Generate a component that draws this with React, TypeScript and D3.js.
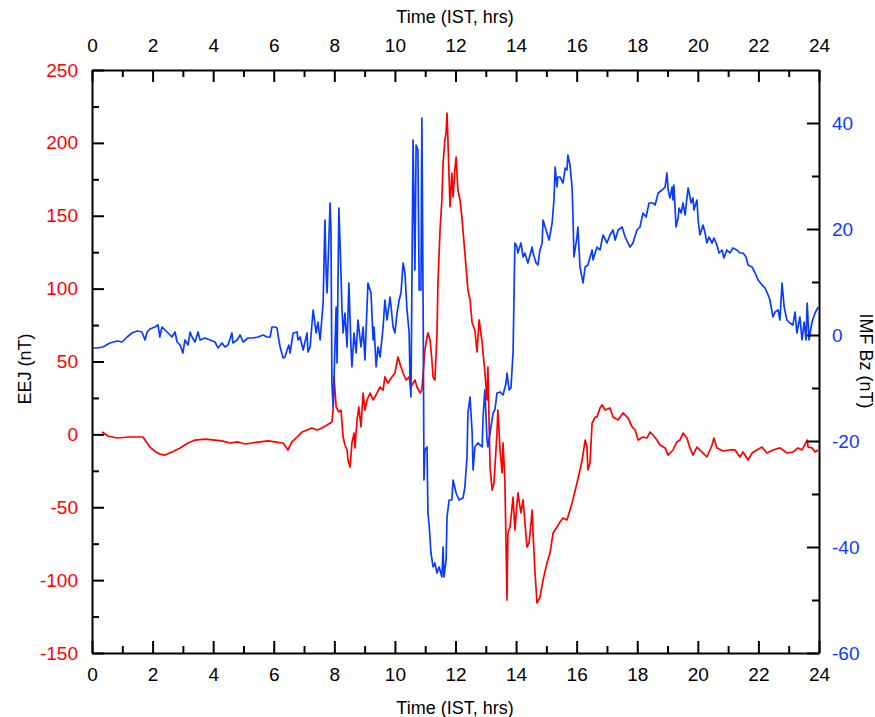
import React, { useEffect, useRef } from 'react';
import * as d3 from 'd3';

// EEJ readings [hour IST, nT] (left axis, red)
const eejReadings: [number, number][] = [
  [0.33, 1.6], [0.53, -1.1], [0.83, -2.5], [1.25, -1.8], [1.68, -1.8], [1.91, -8.7], [2.11, -12.1],
  [2.24, -13.5], [2.41, -14.2], [2.64, -12.1], [2.91, -9.3], [3.17, -5.9], [3.4, -3.9], [3.73, -3.2],
  [4.06, -3.9], [4.29, -4.5], [4.56, -5.9], [4.82, -5.2], [5.05, -6.6], [5.28, -5.9], [5.55, -5.2],
  [5.81, -4.5], [6.04, -5.2], [6.31, -5.9], [6.47, -10.7], [6.6, -5.2], [6.77, -1.8], [6.93, 1.6],
  [7.1, 3.0], [7.26, 4.4], [7.43, 3.0], [7.59, 4.4], [7.76, 6.4], [7.92, 8.5], [7.96, 16.7],
  [7.99, 39.4], [8.06, 18.8], [8.15, 15.4], [8.22, 16.7], [8.29, -1.8], [8.35, -7.3], [8.42, -10.7],
  [8.45, -17.6], [8.52, -22.4], [8.58, -5.9], [8.65, 0.9], [8.68, -9.3], [8.75, 9.9], [8.81, 18.8],
  [8.88, 5.1], [8.95, 28.4], [9.01, 16.7], [9.08, 23.6], [9.18, 28.4], [9.28, 23.6], [9.41, 28.4],
  [9.51, 32.5], [9.61, 30.4], [9.67, 39.4], [9.77, 35.2], [9.9, 39.4], [10.0, 42.1], [10.1, 53.1],
  [10.2, 46.2], [10.27, 42.1], [10.37, 37.3], [10.47, 39.4], [10.53, 32.5], [10.6, 35.2], [10.66, 37.3],
  [10.73, 32.5], [10.83, 28.4], [10.89, 30.4], [10.99, 57.9], [11.06, 66.8], [11.09, 69.6], [11.16, 64.8],
  [11.22, 51], [11.26, 39.4], [11.32, 37.3], [11.39, 69.6], [11.42, 103.9], [11.49, 140.2], [11.55, 160.8],
  [11.59, 186.2], [11.65, 202], [11.69, 206.8], [11.72, 220.5], [11.75, 202], [11.82, 156], [11.88, 179.3],
  [11.92, 162.9], [11.98, 181.4], [12.02, 190.3], [12.08, 167.7], [12.15, 160.8], [12.21, 149.1],
  [12.31, 124.4], [12.41, 99.1], [12.48, 92.2], [12.55, 76.4], [12.64, 71.6], [12.71, 56.5], [12.78, 78.5],
  [12.88, 62.7], [12.97, 42.8], [13.04, 23.6], [13.07, 46.2], [13.14, -22.4], [13.21, -38.2], [13.27, -33.4],
  [13.37, 0.9], [13.4, 16.7], [13.47, -10.7], [13.54, -26.5], [13.57, -5.9], [13.63, -31.3], [13.7, -113.6],
  [13.73, -67.7], [13.8, -63.6], [13.9, -43], [13.96, -65.6], [14.06, -40.2], [14.16, -53.9], [14.23, -45],
  [14.36, -77.3], [14.43, -74.5], [14.53, -51.9], [14.56, -67.7], [14.62, -93.1], [14.69, -115.7],
  [14.79, -111.6], [14.89, -99.9], [15.02, -88.3], [15.12, -81.4], [15.22, -67.7], [15.35, -63.6],
  [15.45, -60.1], [15.55, -57.4], [15.68, -58.7], [15.85, -47.1], [16.01, -33.4], [16.11, -24.4],
  [16.18, -17.6], [16.28, -3.9], [16.34, -8.7], [16.37, -24.4], [16.44, -19.6], [16.51, 7.8], [16.61, 11.9],
  [16.67, 11.9], [16.77, 18.1], [16.84, 20.2], [16.94, 16.7], [17.1, 18.1], [17.2, 11.9], [17.37, 9.9],
  [17.53, 14.7], [17.7, 11.2], [17.83, 5.1], [17.93, 3.0], [18.03, -3.9], [18.19, -1.8], [18.32, -2.5],
  [18.42, 1.6], [18.52, -0.4], [18.65, -3.9], [18.75, -7.3], [18.92, -9.3], [19.02, -14.2], [19.18, -10.7],
  [19.31, -5.2], [19.41, -3.9], [19.51, 0.9], [19.64, -2.5], [19.74, -9.3], [19.84, -14.2], [19.97, -8.7],
  [20.07, -10.7], [20.17, -12.8], [20.3, -15.5], [20.47, -7.3], [20.53, -2.5], [20.63, -9.3], [20.83, -11.4],
  [21.06, -10.7], [21.23, -10.7], [21.39, -15.5], [21.49, -12.1], [21.66, -17.6], [21.79, -12.8],
  [21.95, -10.7], [22.12, -8.7], [22.28, -12.8], [22.48, -10.7], [22.71, -9.3], [22.94, -12.8],
  [23.14, -12.1], [23.31, -9.3], [23.44, -10.7], [23.61, -3.9], [23.64, -8.7], [23.77, -9.3],
  [23.87, -12.1], [23.97, -10.7],
];

// IMF Bz readings [hour IST, nT] (right axis, blue)
const bzReadings: [number, number][] = [
  [0.0, -2.45], [0.17, -2.45], [0.36, -2.26], [0.59, -1.51], [0.83, -1.13], [0.99, -1.32], [1.16, -0.38],
  [1.32, 0.38], [1.49, 0.75], [1.65, 0.57], [1.75, -0.94], [1.82, 0.57], [1.91, 1.13], [2.08, 1.51],
  [2.18, 1.89], [2.24, -0.38], [2.31, 1.51], [2.41, 0.94], [2.51, 0.38], [2.64, -0.38], [2.74, 0.57],
  [2.81, -1.32], [2.91, -1.89], [3.0, -3.4], [3.07, -0.94], [3.17, -1.89], [3.24, 0.57], [3.3, -0.38],
  [3.4, -1.32], [3.5, 0.57], [3.57, -0.94], [3.73, -0.57], [3.9, -0.94], [4.06, -1.32], [4.16, -2.45],
  [4.29, -1.51], [4.39, -2.26], [4.49, -1.89], [4.62, 0.38], [4.65, -1.51], [4.79, -0.94], [4.89, 0],
  [4.99, -1.32], [5.15, -0.57], [5.32, -0.57], [5.48, -0.38], [5.65, 0], [5.78, -0.38], [5.88, -0.38],
  [5.94, 1.51], [6.04, 1.51], [6.11, 1.32], [6.14, 0], [6.21, -2.26], [6.31, -4.34], [6.37, -4.15],
  [6.44, -2.83], [6.5, -1.89], [6.54, -3.4], [6.64, 0.38], [6.77, 0.57], [6.8, -0.94], [6.87, -0.38],
  [6.97, -2.83], [7.1, 0.38], [7.13, -3.21], [7.2, -2.26], [7.3, 4.72], [7.4, 0.38], [7.46, 2.45],
  [7.53, -0.94], [7.63, 6.04], [7.69, 21.7], [7.73, 11.7], [7.76, 7.92], [7.82, 17.92], [7.86, 24.91],
  [7.89, 19.25], [7.92, -9.06], [7.96, -13.58], [7.99, -7.92], [8.06, 5.28], [8.09, -5.28], [8.15, 23.96],
  [8.22, 11.7], [8.25, 5.28], [8.29, 0.38], [8.35, 4.15], [8.42, -2.26], [8.48, 9.81], [8.55, -2.26],
  [8.58, -6.04], [8.65, 0.38], [8.72, -3.4], [8.78, 2.83], [8.88, -2.26], [8.95, 1.51], [9.01, -4.72],
  [9.11, 9.81], [9.21, 7.92], [9.28, -0.94], [9.31, 1.51], [9.38, -6.04], [9.44, -2.26], [9.51, -4.15],
  [9.61, 1.51], [9.67, 6.6], [9.74, 2.83], [9.84, 7.17], [9.94, 1.51], [10.0, 0.38], [10.07, 4.15],
  [10.14, 6.6], [10.2, 7.92], [10.27, 13.58], [10.33, 11.7], [10.4, 4.72], [10.47, 0.38], [10.5, -9.06],
  [10.53, -11.7], [10.6, 36.79], [10.66, 12.26], [10.7, 35.85], [10.76, 34.91], [10.8, 8.49], [10.86, 8.49],
  [10.89, 40.94], [10.93, 6.6], [10.96, -27.36], [10.99, -21.7], [11.06, -21.13], [11.09, -33.58],
  [11.13, -35.85], [11.19, -41.13], [11.26, -43.77], [11.32, -43.02], [11.39, -44.91], [11.46, -43.77],
  [11.55, -45.66], [11.59, -40], [11.62, -45.66], [11.69, -42.45], [11.72, -34.34], [11.79, -31.13],
  [11.88, -31.13], [11.92, -27.36], [12.02, -29.81], [12.12, -31.13], [12.25, -30.75], [12.31, -28.68],
  [12.38, -23.02], [12.41, -14.72], [12.48, -11.7], [12.55, -18.49], [12.58, -25.47], [12.64, -21.13],
  [12.74, -20.38], [12.88, -21.13], [12.91, -15.47], [12.97, -10.38], [13.04, -19.81], [13.07, -21.13],
  [13.14, -18.49], [13.24, -14.72], [13.3, -14.15], [13.37, -10.94], [13.47, -10.75], [13.57, -11.32],
  [13.67, -9.06], [13.7, -7.17], [13.77, -10.38], [13.83, -10], [13.9, -3.4], [13.93, 6.6], [13.96, 17.36],
  [14.03, 16.6], [14.06, 15.47], [14.16, 17.36], [14.23, 14.72], [14.29, 15.47], [14.39, 13.58],
  [14.53, 16.6], [14.56, 15.47], [14.66, 13.58], [14.72, 13.21], [14.79, 16.04], [14.86, 17.36],
  [14.89, 21.7], [14.96, 20.38], [15.02, 19.25], [15.09, 17.92], [15.19, 21.13], [15.25, 25.47],
  [15.29, 31.7], [15.35, 27.92], [15.38, 29.81], [15.45, 29.81], [15.55, 28.68], [15.62, 31.51],
  [15.68, 31.13], [15.71, 33.96], [15.78, 32.08], [15.85, 27.74], [15.88, 22.26], [15.91, 14.72],
  [16.01, 18.49], [16.04, 20.38], [16.11, 12.83], [16.21, 9.81], [16.28, 12.83], [16.37, 13.21],
  [16.51, 16.04], [16.54, 14.15], [16.67, 16.6], [16.77, 16.04], [16.87, 18.87], [17.0, 17.36],
  [17.1, 18.87], [17.2, 19.81], [17.27, 17.92], [17.37, 19.81], [17.5, 20.38], [17.6, 18.49], [17.76, 16.6],
  [17.86, 17.36], [17.99, 19.81], [18.09, 20.38], [18.19, 23.02], [18.29, 22.26], [18.39, 24.91],
  [18.52, 24.91], [18.59, 24.53], [18.69, 26.79], [18.82, 27.36], [18.92, 27.92], [18.98, 30.57],
  [19.02, 27.36], [19.08, 25.85], [19.15, 27.92], [19.18, 25.47], [19.21, 28.3], [19.28, 20.38],
  [19.35, 22.08], [19.38, 23.96], [19.45, 23.02], [19.51, 24.91], [19.58, 22.64], [19.64, 25.85],
  [19.68, 27.74], [19.78, 24.91], [19.84, 25.85], [19.87, 23.58], [19.97, 25.47], [20.01, 21.7],
  [20.07, 18.87], [20.17, 20.75], [20.24, 19.25], [20.3, 17.36], [20.37, 18.49], [20.47, 17.36],
  [20.53, 18.3], [20.63, 16.98], [20.7, 15.47], [20.8, 16.04], [20.86, 14.53], [20.96, 16.04],
  [21.06, 15.47], [21.16, 16.42], [21.29, 16.04], [21.39, 15.47], [21.49, 15.47], [21.59, 14.72],
  [21.66, 13.21], [21.79, 12.83], [21.89, 11.7], [21.99, 10.38], [22.12, 9.43], [22.22, 8.87],
  [22.32, 7.55], [22.38, 6.6], [22.48, 3.4], [22.55, 4.34], [22.65, 4.72], [22.71, 2.83], [22.78, 9.81],
  [22.85, 5.28], [22.94, 2.83], [23.04, 2.26], [23.14, 1.89], [23.21, 4.34], [23.27, 0.38], [23.37, 3.4],
  [23.44, -0.94], [23.51, 2.45], [23.57, -0.94], [23.61, 6.04], [23.67, -0.94], [23.77, 2.45],
  [23.87, 4.15], [23.97, 5.28],
];

const hourTicks = [0, 2, 4, 6, 8, 10, 12, 14, 16, 18, 20, 22, 24];
const eejTicks = [-150, -100, -50, 0, 50, 100, 150, 200, 250];
const bzTicks = [-60, -40, -20, 0, 20, 40];

export default function App() {
  const ref = useRef<SVGSVGElement>(null);

  useEffect(() => {
    const svg = d3.select(ref.current);
    svg.selectAll('*').remove();

    const font = '"Liberation Sans", Arial, sans-serif';
    const red = '#ff0000';
    const blue = '#0a3cff';

    const plot = { left: 92, right: 819, top: 70, bottom: 653 };

    const x = d3.scaleLinear().domain([0, 24]).range([plot.left, plot.right]);
    const yEej = d3.scaleLinear().domain([-150, 250]).range([plot.bottom, plot.top]);
    const yBz = d3.scaleLinear().domain([-60, 50]).range([plot.bottom, plot.top]);

    const lineFor = (ys: d3.ScaleLinear<number, number>) =>
      d3.line<[number, number]>().x(d => x(d[0])).y(d => ys(d[1]));

    svg.append('path')
      .datum(eejReadings)
      .attr('fill', 'none')
      .attr('stroke', red)
      .attr('stroke-width', 1.7)
      .attr('stroke-linejoin', 'round')
      .attr('d', lineFor(yEej));

    svg.append('path')
      .datum(bzReadings)
      .attr('fill', 'none')
      .attr('stroke', blue)
      .attr('stroke-width', 1.7)
      .attr('stroke-linejoin', 'round')
      .attr('d', lineFor(yBz));

    // minor ticks, all pointing into the plot
    const minor = (axis: any, tr: string) => {
      svg.append('g')
        .attr('transform', tr)
        .call(axis.tickSize(-7).tickFormat(() => ''))
        .call((g: any) => g.select('.domain').remove())
        .call((g: any) => g.selectAll('line').attr('stroke', '#000').attr('stroke-width', 2));
    };
    minor(d3.axisBottom(x).tickValues(d3.range(1, 24, 2)), `translate(0,${plot.bottom})`);
    minor(d3.axisTop(x).tickValues(d3.range(1, 24, 2)), `translate(0,${plot.top})`);
    minor(d3.axisLeft(yEej).tickValues(d3.range(-125, 250, 50)), `translate(${plot.left},0)`);
    minor(d3.axisRight(yBz).tickValues(d3.range(-50, 50, 20)), `translate(${plot.right},0)`);

    // plain hyphen for negatives, like the original
    const plain = (d: any) => String(d);

    const major = (axis: any, tr: string, color: string) => {
      const g = svg.append('g').attr('transform', tr)
        .call(axis.tickSize(-12).tickSizeOuter(0).tickFormat(plain));
      g.attr('font-family', null).attr('font-size', null);
      g.select('.domain').attr('stroke', '#000').attr('stroke-width', 2);
      g.selectAll('.tick line').attr('stroke', '#000').attr('stroke-width', 2);
      g.selectAll('text')
        .attr('fill', color)
        .style('font-family', font)
        .style('font-size', '19px');
    };
    major(d3.axisBottom(x).tickValues(hourTicks).tickPadding(15), `translate(0,${plot.bottom})`, '#000');
    major(d3.axisTop(x).tickValues(hourTicks).tickPadding(18), `translate(0,${plot.top})`, '#000');
    major(d3.axisLeft(yEej).tickValues(eejTicks).tickPadding(14), `translate(${plot.left},0)`, red);
    major(d3.axisRight(yBz).tickValues(bzTicks).tickPadding(13), `translate(${plot.right},0)`, blue);

    const title = (txt: string, tx: number, ty: number, rot: number) => {
      svg.append('text')
        .attr('transform', `translate(${tx},${ty}) rotate(${rot})`)
        .attr('text-anchor', 'middle')
        .attr('dominant-baseline', 'central')
        .style('font-family', font)
        .style('font-size', '18px')
        .attr('fill', '#000')
        .text(txt);
    };
    title('Time (IST, hrs)', 455, 17, 0);
    title('Time (IST, hrs)', 455, 708, 0);
    title('EEJ (nT)', 25, 369, -90);
    title('IMF Bz (nT)', 866, 361, 90);
  }, []);

  return (
    <svg
      ref={ref}
      width={875}
      height={717}
      style={{ position: 'absolute', left: 0, top: 0, background: '#fff' }}
    />
  );
}
